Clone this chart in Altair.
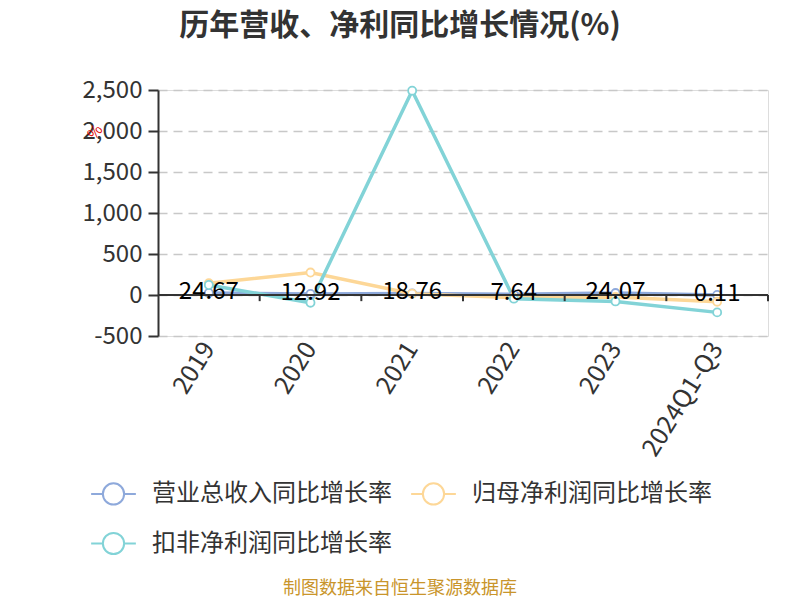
import altair as alt
import pandas as pd

years = ["2019", "2020", "2021", "2022", "2023", "2024Q1-Q3"]
series_names = ["营业总收入同比增长率", "归母净利润同比增长率", "扣非净利润同比增长率"]
revenue_growth = [24.67, 12.92, 18.76, 7.64, 24.07, 0.11]
parent_profit_growth = [143, 274, 16, -33, -25, -82]
deducted_profit_growth = [122, -94, 2492, -45, -78, -212]
revenue_labels = ["24.67", "12.92", "18.76", "7.64", "24.07", "0.11"]
y_ticks = [-500, 0, 500, 1000, 1500, 2000, 2500]
colors = ["#8EA9DB", "#FDD797", "#82D3D7"]

rows = []
for name, vals in zip(series_names, [revenue_growth, parent_profit_growth, deducted_profit_growth]):
    for yr, v in zip(years, vals):
        rows.append({"year": yr, "series": name, "value": v, "order": series_names.index(name)})
df = pd.DataFrame(rows)
lab_df = pd.DataFrame({"year": years, "value": revenue_growth, "label": revenue_labels})
yr_df = pd.DataFrame({"year": years})

FONT = "Noto Sans CJK SC"
xscale = alt.Scale(type="band", domain=years, paddingInner=0, paddingOuter=0)
yscale = alt.Scale(domain=[-500, 2500], nice=False, zero=False)

legend_path = "M-2,0L-0.95,0M0.95,0L2,0M-0.95,0A0.95,0.95,0,1,0,0.95,0A0.95,0.95,0,1,0,-0.95,0Z"

color = alt.Color(
    "series:N",
    scale=alt.Scale(domain=series_names, range=colors),
    sort=series_names,
    legend=alt.Legend(
        title=None, orient="none", legendX=-57, legendY=391, columns=2,
        direction="horizontal",
        symbolType=legend_path, symbolSize=500, symbolStrokeWidth=2,
        symbolFillColor="white", labelOffset=26, labelFontSize=24,
        labelFont=FONT, labelColor="#333", labelLimit=400,
        columnPadding=15, rowPadding=19,
    ),
)

x_enc = alt.X(
    "year:N", scale=xscale, sort=years, title=None,
    axis=alt.Axis(domain=False, ticks=False, labelAngle=-58, labelAlign="right",
                  labelBaseline="middle", labelPadding=8, labelFontSize=25,
                  labelFont=FONT, labelColor="#333", grid=False),
)
y_enc = alt.Y(
    "value:Q", scale=yscale, title=None,
    axis=alt.Axis(values=y_ticks,
                  labelExpr="datum.value < 0 ? '-' + format(-datum.value, ',d') : format(datum.value, ',d')",
                  labelFontSize=24, labelFont=FONT,
                  labelColor="#333", domainColor="#333", domainWidth=2,
                  tickColor="#333", tickWidth=2, tickSize=10, labelPadding=6,
                  grid=True, gridColor="#c8c8c8", gridDash=[9, 6], gridWidth=1.5),
)

base = alt.Chart(df)
lines = base.mark_line(strokeWidth=3.5).encode(x=x_enc, y=y_enc, color=color, order="order:Q", detail="series:N")
points = base.mark_point(filled=True, fill="white", size=65, strokeWidth=1.8, opacity=1).encode(
    x=alt.X("year:N", scale=xscale, sort=years),
    y=alt.Y("value:Q", scale=yscale),
    stroke=alt.Stroke("series:N", scale=alt.Scale(domain=series_names, range=colors), legend=None),
)

zero_line = alt.Chart(yr_df).mark_rule(color="#333", strokeWidth=2).encode(y=alt.datum(0, scale=yscale))
ticks = alt.Chart(yr_df).mark_rule(color="#333", strokeWidth=2).encode(
    x=alt.X("year:N", scale=xscale, sort=years, bandPosition=1),
    y=alt.datum(0),
    y2=alt.datum(-75),
)

labels = alt.Chart(lab_df).mark_text(fontSize=24, font=FONT, color="#000", baseline="middle", dy=-1).encode(
    x=alt.X("year:N", scale=xscale, sort=years),
    y=alt.Y("value:Q", scale=yscale),
    text="label:N",
)

deco = pd.DataFrame({"t": ["历年营收、净利同比增长情况(%)"]})
title = alt.Chart(deco).mark_text(fontSize=30, fontWeight="bold", font=FONT, color="#333", baseline="middle").encode(
    x=alt.value(242), y=alt.value(-64), text="t:N")
footer = alt.Chart(pd.DataFrame({"t": ["制图数据来自恒生聚源数据库"]})).mark_text(
    fontSize=18, font=FONT, color="#C9952B", baseline="middle").encode(
    x=alt.value(242), y=alt.value(499), text="t:N")
pct = alt.Chart(pd.DataFrame({"t": ["%"]})).mark_text(
    fontSize=15, font=FONT, color="#e00000", angle=310, baseline="middle").encode(
    x=alt.value(-63), y=alt.value(42), text="t:N")

chart = alt.layer(lines, points, zero_line, ticks, labels, title, footer, pct).properties(
    width=610, height=246,
    autosize=alt.AutoSizeParams(type="none"),
    padding={"left": 150, "top": 82, "right": 24, "bottom": 264},
).configure_view(stroke=None).configure(background="white")

chart.save("out.html", embed_options={"renderer": "svg", "actions": False})
